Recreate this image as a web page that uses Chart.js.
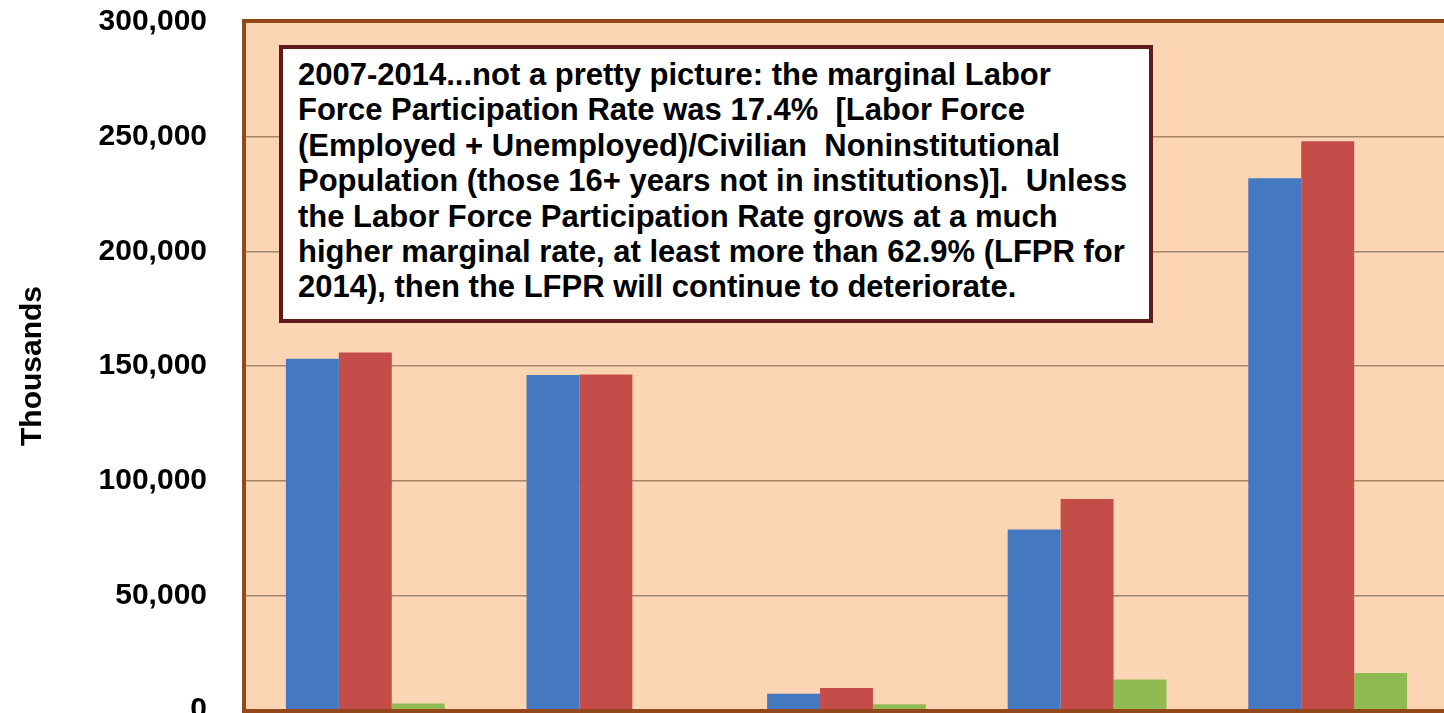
<!DOCTYPE html>
<html>
<head>
<meta charset="utf-8">
<script src="https://cdn.jsdelivr.net/npm/chart.js@4.4.1/dist/chart.umd.min.js"></script>
<style>
  html, body { margin: 0; padding: 0; background: #fff; overflow: hidden; }
  #wrap { position: relative; width: 1444px; height: 713px; overflow: hidden; }
  #grafico { position: absolute; left: 0; top: -34px; }
  #nota {
    position: absolute;
    left: 279px;
    top: 45px;
    width: 851px;
    height: 262px;
    padding: 8px 0 0 15px;
    background: #fff;
    border: 4px solid #5e1c1c;
    font-family: "Liberation Sans", Arial, sans-serif;
    font-weight: bold;
    font-size: 31px;
    line-height: 35.4px;
    color: #000;
    white-space: pre;
  }
</style>
</head>
<body>
<div id="wrap">
  <canvas id="grafico" width="1452" height="800"></canvas>
  <div id="nota"></div>
</div>
<script>
// Datos (miles) - BLS, 2007 vs 2014
const categorias = [
  "Civilian Labor Force",
  "Employed",
  "Unemployed",
  "Not in Labor Force",
  "Civilian Noninstitutional Population",
]
const valores2007 = [153124, 146047, 7078, 78743, 231867]
const valores2014 = [155922, 146305, 9617, 92025, 247947]
const cambio = [2798, 258, 2539, 13282, 16080]

const notaLineas = [
  "2007-2014...not a pretty picture: the marginal Labor",
  "Force Participation Rate was 17.4%  [Labor Force",
  "(Employed + Unemployed)/Civilian  Noninstitutional",
  "Population (those 16+ years not in institutions)].  Unless",
  "the Labor Force Participation Rate grows at a much",
  "higher marginal rate, at least more than 62.9% (LFPR for",
  "2014), then the LFPR will continue to deteriorate.",
]
document.getElementById("nota").textContent = notaLineas.join("\n")

const colores = {
  azul: "#4479c2",
  rojo: "#c44d4a",
  verde: "#8fbb52",
  fondo: "#fcd5b4",
  marco: "#94471a",
  rejilla: "#a3866a",
}

// Fondo y marco del área de trazado
const marcoPlugin = {
  id: "marco",
  beforeDraw(chart) {
    const { ctx, chartArea: a } = chart
    ctx.save()
    ctx.fillStyle = colores.fondo
    ctx.fillRect(a.left, a.top, a.right - a.left, a.bottom - a.top)
    ctx.restore()
  },
  afterDraw(chart) {
    const { ctx, chartArea: a } = chart
    ctx.save()
    ctx.strokeStyle = colores.marco
    ctx.lineWidth = 4
    ctx.strokeRect(a.left - 1, a.top - 1, a.right - a.left + 2, a.bottom - a.top + 2)
    ctx.restore()
  },
}

const ctx = document.getElementById("grafico").getContext("2d")
new Chart(ctx, {
  type: "bar",
  data: {
    labels: categorias,
    datasets: [
      { label: "2007", data: valores2007, backgroundColor: colores.azul },
      { label: "2014", data: valores2014, backgroundColor: colores.rojo },
      { label: "Change", data: cambio, backgroundColor: colores.verde },
    ],
  },
  options: {
    responsive: false,
    animation: false,
    layout: { padding: { top: 20, right: 4, bottom: 20, left: 0 } },
    datasets: { bar: { categoryPercentage: 0.66, barPercentage: 1.0 } },
    plugins: {
      legend: { display: false },
      tooltip: { enabled: false },
    },
    scales: {
      x: {
        ticks: { display: false },
        grid: { display: false, drawTicks: false },
        border: { display: false },
      },
      y: {
        min: 0,
        max: 300000,
        afterFit: (scale) => { scale.width = 245 },
        ticks: {
          stepSize: 50000,
          padding: 38,
          color: "#000",
          font: { family: "Liberation Sans, Arial", size: 30, weight: "bold" },
          callback: (v) => v.toLocaleString("en-US"),
        },
        grid: { color: colores.rejilla, lineWidth: 1.5, drawTicks: false },
        border: { display: false },
        title: {
          display: true,
          text: "Thousands",
          color: "#000",
          padding: { top: 15, bottom: 0 },
          font: { family: "Liberation Sans, Arial", size: 30, weight: "bold" },
        },
      },
    },
  },
  plugins: [marcoPlugin],
})
</script>
</body>
</html>
